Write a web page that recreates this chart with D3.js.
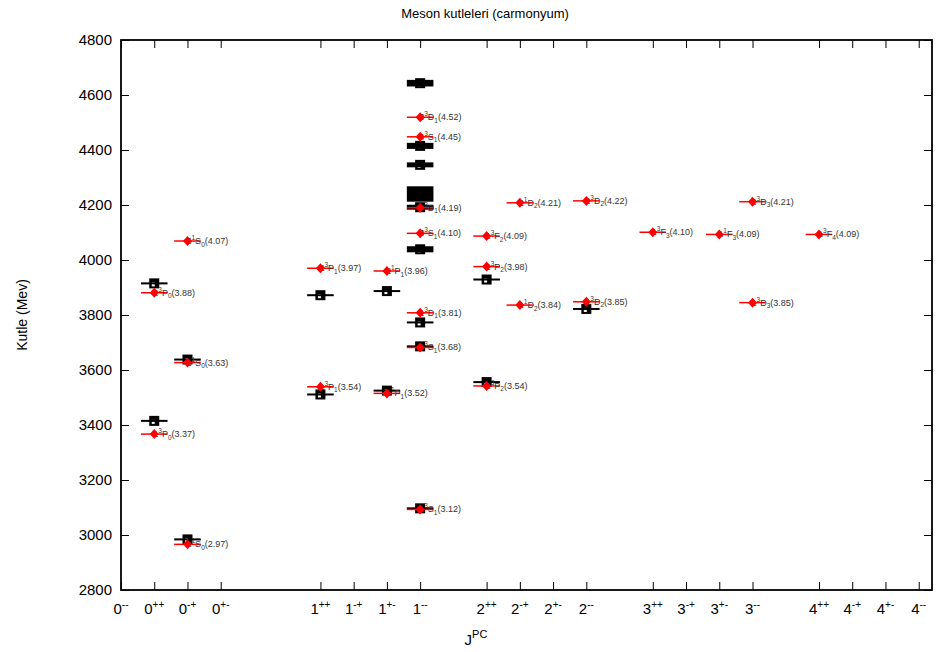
<!DOCTYPE html>
<html><head><meta charset="utf-8">
<script src="https://cdn.jsdelivr.net/npm/d3@7"></script>
<style>
body{margin:0;background:#fff}
svg{display:block}
text{font-family:"Liberation Sans",Arial,Helvetica,sans-serif}
</style>
</head><body>
<svg id="chart" width="943" height="652"></svg>
<script>
// ---- data ----
const tickCats = ["0--","0++","0-+","0+-","1++","1-+","1+-","1--","2++","2-+","2+-","2--","3++","3-+","3+-","3--","4++","4-+","4+-","4--"];
const tickPos  = [0,1,2,3,6,7,8,9,11,12,13,14,16,17,18,19,21,22,23,24];
const yTicks   = [2800,3000,3200,3400,3600,3800,4000,4200,4400,4600,4800];

// experimental (black)
const expCat  = ["0++","0++","0-+","0-+","1++","1++","1+-","1+-","1--","1--","1--","1--","1--","1--","1--","1--","1--","2++","2++","2--"];
const expMass = [3415,3915,2984,3638,3511,3872,3525,3887,3097,3686,3773,4039,4192,4240,4346,4415,4643,3556,3929,3822];
const expErr  = [0,0,0,0,0,0,0,0,0,0,0,11,9,28,9,11,12,0,0,0];

// theoretical (red)
const thCat  = ["0++","0++","0-+","0-+","0-+","1++","1++","1+-","1+-","1--","1--","1--","1--","1--","1--","1--","2++","2++","2++","2-+","2-+","2--","2--","3++","3+-","3--","3--","4++"];
const thMass = [3367,3881,2966,3627,4069,3539,3970,3515,3960,3093,3682,3808,4097,4190,4448,4519,3542,3976,4087,3836,4208,3848,4215,4101,4093,3845,4212,4093];
const thN    = ["1","2","1","2","3","1","2","1","2","1","2","1","3","2","4","3","1","2","1","1","2","1","2","1","1","1","2","1"];
const thS    = ["3","3","1","1","1","3","3","1","1","3","3","3","3","3","3","3","3","3","3","1","1","3","3","3","1","3","3","3"];
const thL    = ["P","P","S","S","S","P","P","P","P","S","S","D","S","D","S","D","P","P","F","D","D","D","D","F","F","D","D","F"];
const thJ    = ["0","0","0","0","0","1","1","1","1","1","1","1","1","1","1","1","2","2","2","2","2","2","2","3","3","3","3","4"];
const thVal  = ["3.37","3.88","2.97","3.63","4.07","3.54","3.97","3.52","3.96","3.12","3.68","3.81","4.10","4.19","4.45","4.52","3.54","3.98","4.09","3.84","4.21","3.85","4.22","4.10","4.09","3.85","4.21","4.09"];

// ---- layout ----
const svg = d3.select("#chart");
const L = 121, R = 932, T = 40, B = 590;
const catX = c => tickPos[tickCats.indexOf(c)];
const x = d3.scaleLinear().domain([0, 24.4]).range([L, R]);
const y = d3.scaleLinear().domain([2800, 4800]).range([B, T]);
const font = '"Liberation Sans",Arial,Helvetica,sans-serif';

// axes
const xAxis = d3.axisBottom(x).tickValues(tickPos).tickSizeInner(-8).tickSizeOuter(0).tickPadding(12).tickFormat("");
const gx = svg.append("g").attr("transform", `translate(0,${B})`).call(xAxis);
const xTop = d3.axisTop(x).tickValues(tickPos).tickSizeInner(-8).tickSizeOuter(0).tickFormat("");
svg.append("g").attr("transform", `translate(0,${T})`).call(xTop);
const yAxis = d3.axisLeft(y).tickValues(yTicks).tickSizeInner(-8).tickSizeOuter(0).tickPadding(9).tickFormat(d3.format("d"));
const gy = svg.append("g").attr("transform", `translate(${L},0)`).call(yAxis);
const yRight = d3.axisRight(y).tickValues(yTicks).tickSizeInner(-8).tickSizeOuter(0).tickFormat("");
svg.append("g").attr("transform", `translate(${R},0)`).call(yRight);
svg.selectAll(".domain").remove();
svg.selectAll(".tick line").attr("stroke", "#000").attr("stroke-width", 1);
gy.selectAll("text").attr("font-size", 15).attr("font-family", font).attr("fill", "#000");

// x tick labels with superscripts
tickPos.forEach((p, i) => {
  const c = tickCats[i];
  const t = svg.append("text").attr("x", x(p)).attr("y", 614).attr("text-anchor", "middle")
    .attr("font-size", 15).attr("fill", "#000");
  t.append("tspan").text(c[0]);
  t.append("tspan").attr("font-size", 10).attr("dy", -6).text(c.slice(1));
});

// frame
svg.append("rect").attr("x", L).attr("y", T).attr("width", R - L).attr("height", B - T)
  .attr("fill", "none").attr("stroke", "#000").attr("stroke-width", 1.8);

// titles
svg.append("text").attr("x", 485).attr("y", 18).attr("text-anchor", "middle")
  .attr("font-size", 13).attr("fill", "#000").text("Meson kutleleri (carmonyum)");
svg.append("text").attr("transform", "translate(27,315) rotate(-90)").attr("text-anchor", "middle")
  .attr("font-size", 14).attr("fill", "#000").text("Kutle (Mev)");
const xt = svg.append("text").attr("x", 476).attr("y", 645).attr("text-anchor", "middle")
  .attr("font-size", 15).attr("fill", "#000");
xt.append("tspan").text("J");
xt.append("tspan").attr("font-size", 11).attr("dy", -7).text("PC");

// experimental marks
const hw = 0.4;
const expG = svg.append("g");
expMass.forEach((m, i) => {
  const p = catX(expCat[i]);
  const px = x(p), py = y(m);
  expG.append("rect").attr("x", px - 5).attr("y", py - 5).attr("width", 10).attr("height", 10).attr("fill", "#000");
  expG.append("rect").attr("x", px - 2.5).attr("y", py - 1).attr("width", 3).attr("height", 4).attr("fill", "#fff");
  const y1 = y(m + expErr[i]), y2 = y(m - expErr[i]);
  const h = Math.max(2, y2 - y1);
  expG.append("rect").attr("x", x(p - hw)).attr("y", py - h / 2)
    .attr("width", x(p + hw) - x(p - hw)).attr("height", h).attr("fill", "#000");
});

// theoretical marks
const thG = svg.append("g");
thMass.forEach((m, i) => {
  const p = catX(thCat[i]);
  const px = x(p), py = y(m);
  thG.append("line").attr("x1", x(p - hw)).attr("x2", x(p + hw)).attr("y1", py).attr("y2", py)
    .attr("stroke", "#f00").attr("stroke-width", 1.5);
});
thMass.forEach((m, i) => {
  const p = catX(thCat[i]);
  const px = x(p), py = y(m);
  const t = thG.append("text").attr("x", px - 1).attr("y", py + 3).attr("font-size", 9).attr("fill", "#333");
  t.append("tspan").text(thN[i]);
  t.append("tspan").attr("font-size", 6.5).attr("dy", -4).text(thS[i]);
  t.append("tspan").attr("dy", 4).text(thL[i]);
  t.append("tspan").attr("font-size", 6.5).attr("dy", 2.5).text(thJ[i]);
  t.append("tspan").attr("dy", -2.5).text("(" + thVal[i] + ")");
});
thMass.forEach((m, i) => {
  const p = catX(thCat[i]);
  const px = x(p), py = y(m);
  thG.append("path").attr("d", `M${px},${py - 5}L${px + 4.5},${py}L${px},${py + 5}L${px - 4.5},${py}Z`)
    .attr("fill", "#f00");
});
</script>
</body></html>
